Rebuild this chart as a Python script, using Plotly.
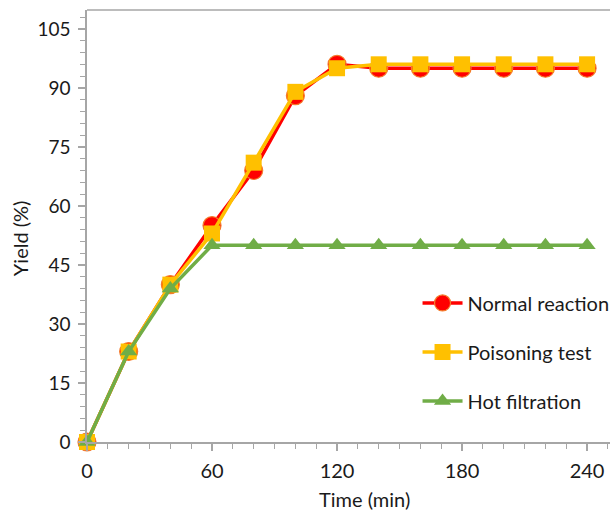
import plotly.graph_objects as go

# Reaction time (min)
time_min = [0, 20, 40, 60, 80, 100, 120, 140, 160, 180, 200, 220, 240]

# Yield (%) for each experiment
normal_reaction = [0, 23, 40, 55, 69, 88, 96, 95, 95, 95, 95, 95, 95]
poisoning_test = [0, 23, 40, 53, 71, 89, 95, 96, 96, 96, 96, 96, 96]
hot_filtration = [0, 23, 39, 50, 50, 50, 50, 50, 50, 50, 50, 50, 50]

x_ticks = [0, 60, 120, 180, 240]
y_ticks = [0, 15, 30, 45, 60, 75, 90, 105]

FONT = "Lato"
TEXT = "#1A1A1A"
AXIS_GREY = "#A6A6A6"

fig = go.Figure()

fig.add_trace(go.Scatter(
    x=time_min, y=normal_reaction, name="Normal reaction",
    mode="lines+markers", legendgroup="a",
    line=dict(color="#FF0000", width=3.5),
    marker=dict(symbol="circle", size=18, color="#FF0000",
                line=dict(color="#F47C2C", width=1.2)),
    cliponaxis=False,
))
fig.add_trace(go.Scatter(
    x=time_min, y=poisoning_test, name="Poisoning test",
    mode="lines+markers", legendgroup="b",
    line=dict(color="#FFC000", width=3.5),
    marker=dict(symbol="square", size=16, color="#FFC000",
                line=dict(color="#FFC000", width=0)),
    cliponaxis=False,
))
fig.add_trace(go.Scatter(
    x=time_min, y=hot_filtration, name="Hot filtration",
    mode="lines+markers", legendgroup="c",
    line=dict(color="#70AD47", width=3.5),
    marker=dict(symbol="triangle-up", size=15, color="#70AD47",
                line=dict(color="#70AD47", width=0)),
    cliponaxis=False,
))

# top border of the plot area
fig.add_shape(type="line", xref="paper", yref="paper",
              x0=0, x1=1.02, y0=1, y1=1,
              line=dict(color=AXIS_GREY, width=1.5))

# axis titles
fig.add_annotation(text="Yield (%)", xref="paper", yref="paper",
                   x=-0.128, y=0.472, textangle=-90, showarrow=False,
                   xanchor="center", yanchor="middle",
                   font=dict(family=FONT, size=20, color=TEXT))
fig.add_annotation(text="Time (min)", xref="paper", yref="paper",
                   x=0.53, y=-0.132, showarrow=False,
                   xanchor="center", yanchor="middle",
                   font=dict(family=FONT, size=20, color=TEXT))

fig.update_layout(
    width=610, height=511,
    margin=dict(l=87, r=0, t=10, b=69, autoexpand=False),
    paper_bgcolor="white", plot_bgcolor="white",
    font=dict(family=FONT, size=19, color=TEXT),
    showlegend=True,
    legend=dict(
        x=0.632, y=0.367, xanchor="left", yanchor="top",
        traceorder="grouped", tracegroupgap=20,
        bgcolor="rgba(0,0,0,0)",
        font=dict(family=FONT, size=20, color=TEXT),
        itemwidth=40,
    ),
    xaxis=dict(
        range=[0, 251], tickvals=x_ticks, ticktext=[str(v) for v in x_ticks],
        showgrid=False, zeroline=False,
        showline=True, linecolor=AXIS_GREY, linewidth=1.5,
        ticks="outside", ticklen=7, tickwidth=1.5, tickcolor=AXIS_GREY,
        ticklabelstandoff=3,
        minor=dict(dtick=10, tick0=0, ticks="outside", ticklen=5,
                   tickwidth=1.2, tickcolor=AXIS_GREY, showgrid=False),
        tickfont=dict(family=FONT, size=20, color=TEXT),
    ),
    yaxis=dict(
        range=[0, 109.8], tickvals=y_ticks, ticktext=[str(v) for v in y_ticks],
        showgrid=False, zeroline=False,
        showline=True, linecolor=AXIS_GREY, linewidth=1.5,
        ticks="outside", ticklen=7, tickwidth=1.5, tickcolor=AXIS_GREY,
        ticklabelstandoff=4,
        minor=dict(dtick=3, tick0=0, ticks="outside", ticklen=5,
                   tickwidth=1.2, tickcolor=AXIS_GREY, showgrid=False),
        tickfont=dict(family=FONT, size=19, color=TEXT),
    ),
)

fig.write_html("out.html")
